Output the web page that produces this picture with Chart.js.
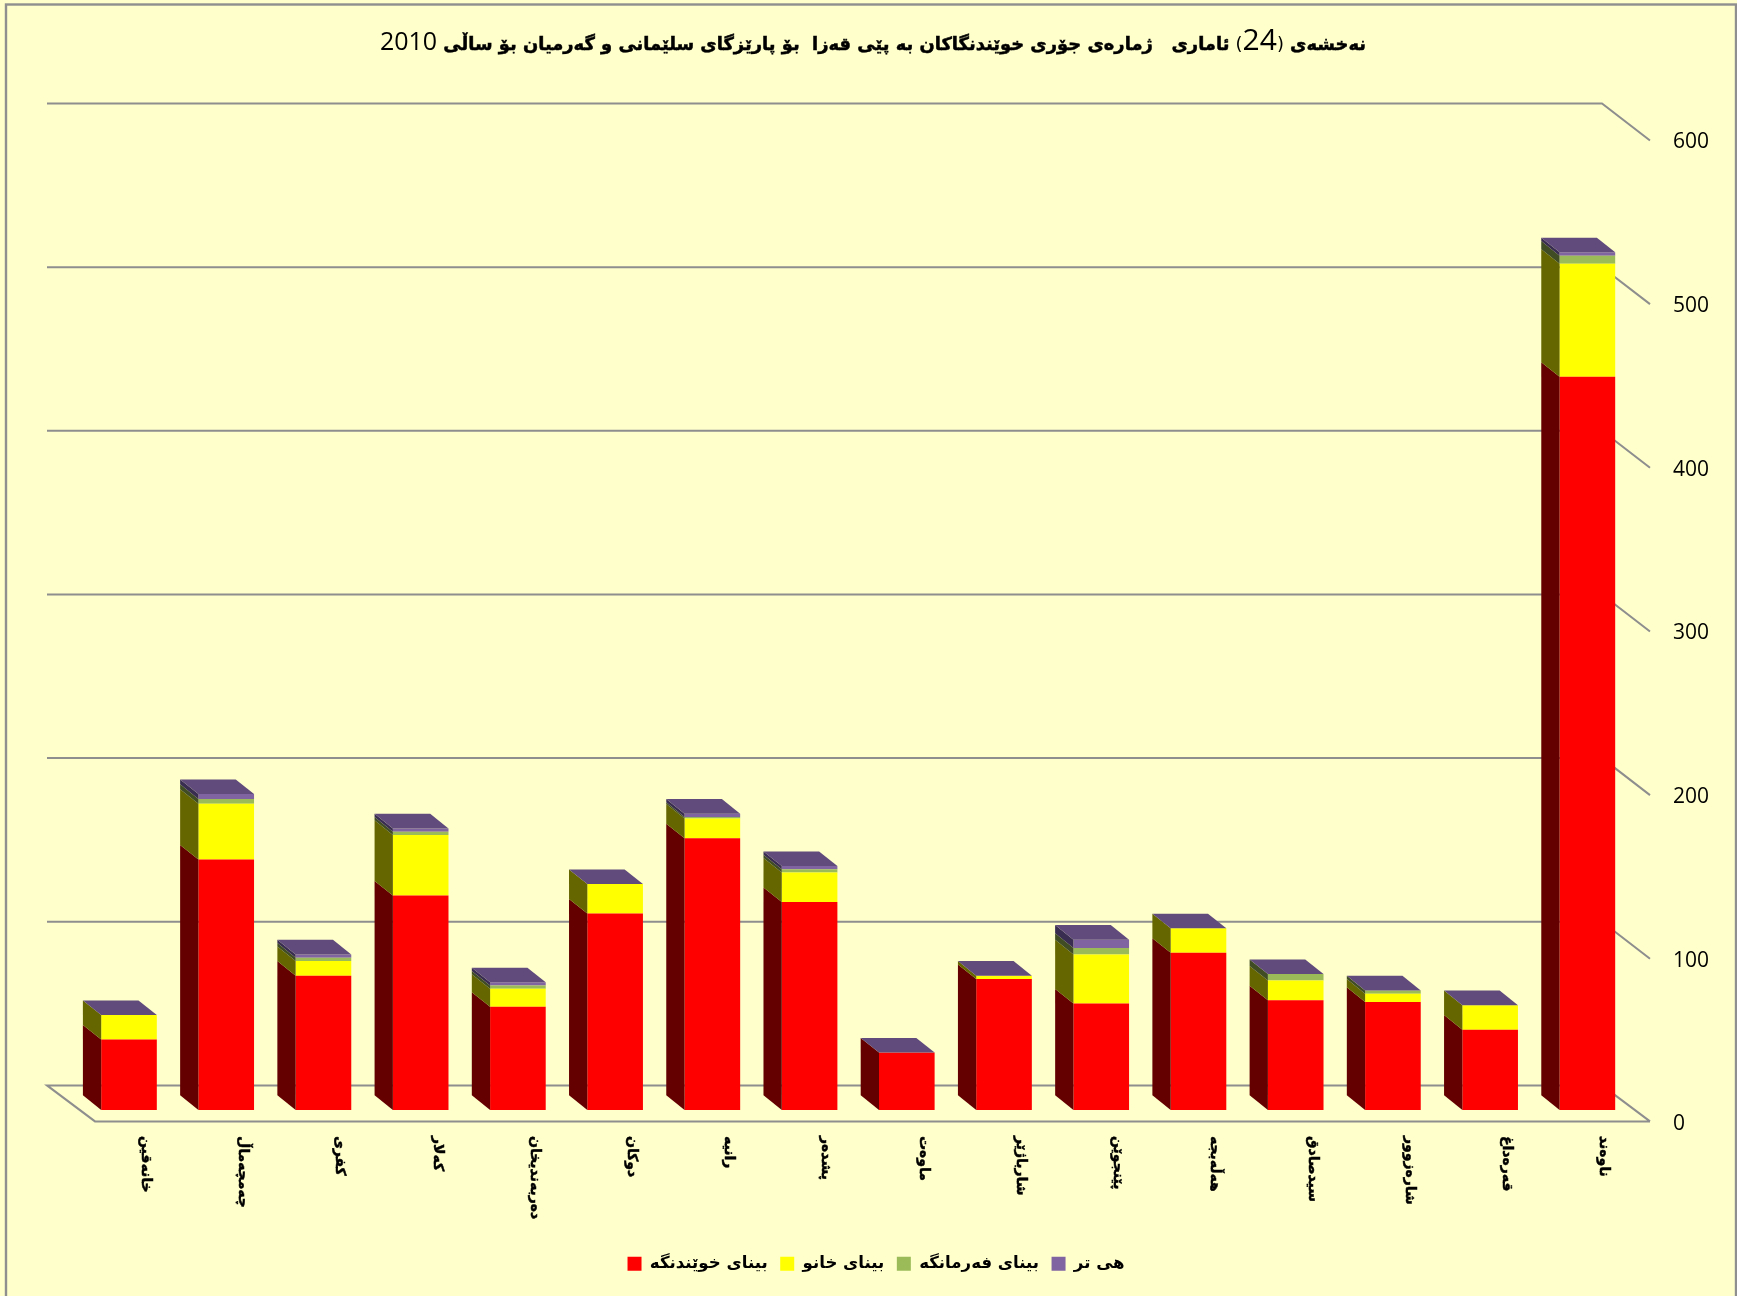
<!DOCTYPE html>
<html lang="ckb">
<head>
<meta charset="utf-8">
<style>html,body{margin:0;padding:0;background:#ffffcc}canvas{display:block}</style>
<script src="https://cdn.jsdelivr.net/npm/chart.js@4"></script>
</head>
<body>
<div style="width:1737px;height:1296px"><canvas id="c" width="1737" height="1296"></canvas></div>
<script>
const categories = ["خانەقین","چەمچەماڵ","کفری","کەلار","دەربەندیخان","دوکان","رانیە","پشدەر","ماوەت","شارباژێر","پێنجوێن","هەڵەبجە","سیدصادق","شارەزوور","قەرەداغ","ناوەند"];
const schoolBuilding = [43,153,82,131,63,120,166,127,35,80,65,96,67,66,49,448];
const houseBuilding  = [15,34,9,37,11,18,12,18,0,2,30,15,12,5,15,69];
const officeBuilding = [0,3,2,2,2,0,1,2,0,0,4,0,4,2,0,5];
const otherBuilding  = [0,3,2,2,2,0,2,2,0,0,5,0,0,0,0,2];
const seriesNames = ["بیناى خوێندنگە","بیناى خانو","بیناى فەرمانگە","هى تر"];
const yTicksMax = 600;
const yTickStep = 100;

const AR = '"DejaVu Sans"';
const titleRuns = [
  ["نەخشەی ", "bold 17.9px "+AR, true],
  ["(", "17.9px "+AR, false],
  ["24", "30px 'Open Sans'", false],
  [")", "17.9px "+AR, false],
  [" ئاماری   ژمارەی جۆری خوێندنگاکان بە پێی قەزا  بۆ پارێزگای سلێمانی و گەرمیان بۆ ساڵی ", "bold 17.9px "+AR, true],
  ["2010", "25px 'Open Sans'", false]
];

const faces = [
  {front:"#ff0000", side:"#640000"},
  {front:"#ffff00", side:"#666600"},
  {front:"#9bbb59", side:"#3f4c24"},
  {front:"#8064a2", side:"#3a2d52"}
];
const DX = 18.3, DY = 14.6;      // bar depth
const WALL_X = 48, WALL_Y = 37;  // floor depth
const WALL_OFFSET = 24.5;        // back wall above the bar base line
const LEGEND_SHIFT = 32.7;

const scenePlugin = {
  id: "scene",
  afterLayout(chart) {
    chart.legend.left -= LEGEND_SHIFT;
    chart.legend.right -= LEGEND_SHIFT;
  },
  beforeDraw(chart) {
    const c = chart.ctx;
    c.save();
    c.fillStyle = "#ffffcc";
    c.fillRect(0,0,chart.width,chart.height);
    c.strokeStyle = "#8f8f8f";
    c.lineWidth = 2.4;
    c.strokeRect(6,4.5,1730,1320);
    c.restore();
  },
  beforeDatasetsDraw(chart) {
    const c = chart.ctx, y = chart.scales.y;
    const x0 = 47, x1 = 1602;
    c.save();
    c.strokeStyle = "#8e8e8e";
    c.lineWidth = 2;
    y.ticks.forEach(t => {
      const py = y.getPixelForValue(t.value) - WALL_OFFSET;
      c.beginPath();
      if (t.value === 0) {
        c.moveTo(x1, py);
        c.lineTo(x0, py);
        c.lineTo(x0+WALL_X, py+WALL_Y-1);
        c.lineTo(x1+WALL_X, py+WALL_Y-1);
        c.moveTo(x1, py);
        c.lineTo(x1+WALL_X, py+WALL_Y-1);
      } else {
        c.moveTo(x0, py);
        c.lineTo(x1, py);
        c.lineTo(x1+WALL_X, py+WALL_Y);
      }
      c.stroke();
    });
    c.restore();
  },
  afterDatasetsDraw(chart) {
    const c = chart.ctx, n = chart.data.datasets.length;
    c.save();
    for (let d=0; d<n; d++) {
      chart.getDatasetMeta(d).data.forEach(b => {
        const l = b.x - b.width/2;
        const top = Math.min(b.y,b.base), bot = Math.max(b.y,b.base);
        if (bot-top > 0) {
          c.fillStyle = faces[d].side;
          c.beginPath();
          c.moveTo(l,top); c.lineTo(l,bot); c.lineTo(l-DX,bot-DY); c.lineTo(l-DX,top-DY);
          c.closePath(); c.fill();
        }
      });
    }
    chart.getDatasetMeta(n-1).data.forEach(b => {
      const l = b.x - b.width/2, r = b.x + b.width/2, top = b.y;
      c.fillStyle = "#604b7c";
      c.beginPath();
      c.moveTo(l,top); c.lineTo(r,top); c.lineTo(r-DX,top-DY); c.lineTo(l-DX,top-DY);
      c.closePath(); c.fill();
    });
    c.restore();
  },
  afterDraw(chart) {
    const c = chart.ctx, xs = chart.scales.x;
    c.save();
    // category labels, turned clockwise
    c.fillStyle = "#000";
    c.strokeStyle = "#000";
    c.lineWidth = 0.5;
    c.font = "bold 14px "+AR;
    c.textAlign = "left";
    c.textBaseline = "middle";
    categories.forEach((t,i) => {
      c.save();
      c.translate(xs.getPixelForTick(i)+16.5, 1136);
      c.rotate(Math.PI/2);
      c.fillText(t,0,0);
      c.strokeText(t,0,0);
      c.restore();
    });
    // title, drawn run by run from the right
    let tx = 1366;
    c.direction = "rtl";
    c.textAlign = "right";
    c.textBaseline = "alphabetic";
    titleRuns.forEach(([s,f,heavy]) => {
      c.font = f;
      c.fillText(s, tx, 50);
      if (heavy) c.strokeText(s, tx, 50);
      tx -= c.measureText(s).width;
    });
    c.restore();
  }
};

new Chart(document.getElementById("c"), {
  type: "bar",
  data: {
    labels: categories,
    datasets: [schoolBuilding,houseBuilding,officeBuilding,otherBuilding].map((v,i)=>({
      label: seriesNames[i],
      data: v,
      backgroundColor: faces[i].front,
      borderWidth: 0,
      categoryPercentage: 1,
      barPercentage: 0.572
    }))
  },
  options: {
    responsive: false,
    animation: false,
    layout: {padding:{top:128,left:80.4,right:0,bottom:14}},
    plugins: {
      title: {display:false},
      tooltip: {enabled:false},
      legend: {
        position: "bottom",
        labels: {
          boxWidth: 14, boxHeight: 14, padding: 12.5,
          color: "#000",
          font: {family:"DejaVu Sans", weight:"bold", size:16.6}
        }
      }
    },
    scales: {
      x: {
        stacked: true,
        grid: {display:false},
        border: {display:false},
        ticks: {display:false},
        afterFit(s){ s.height = 133; }
      },
      y: {
        stacked: true,
        position: "right",
        min: 0, max: yTicksMax,
        grid: {display:false, drawTicks:false},
        border: {display:false},
        ticks: {
          stepSize: yTickStep,
          padding: 37,
          labelOffset: 14.5,
          color: "#000",
          font: {family:"Open Sans", size:21}
        },
        afterFit(s){ s.width = 101; }
      }
    }
  },
  plugins: [scenePlugin]
});
</script>
</body>
</html>
